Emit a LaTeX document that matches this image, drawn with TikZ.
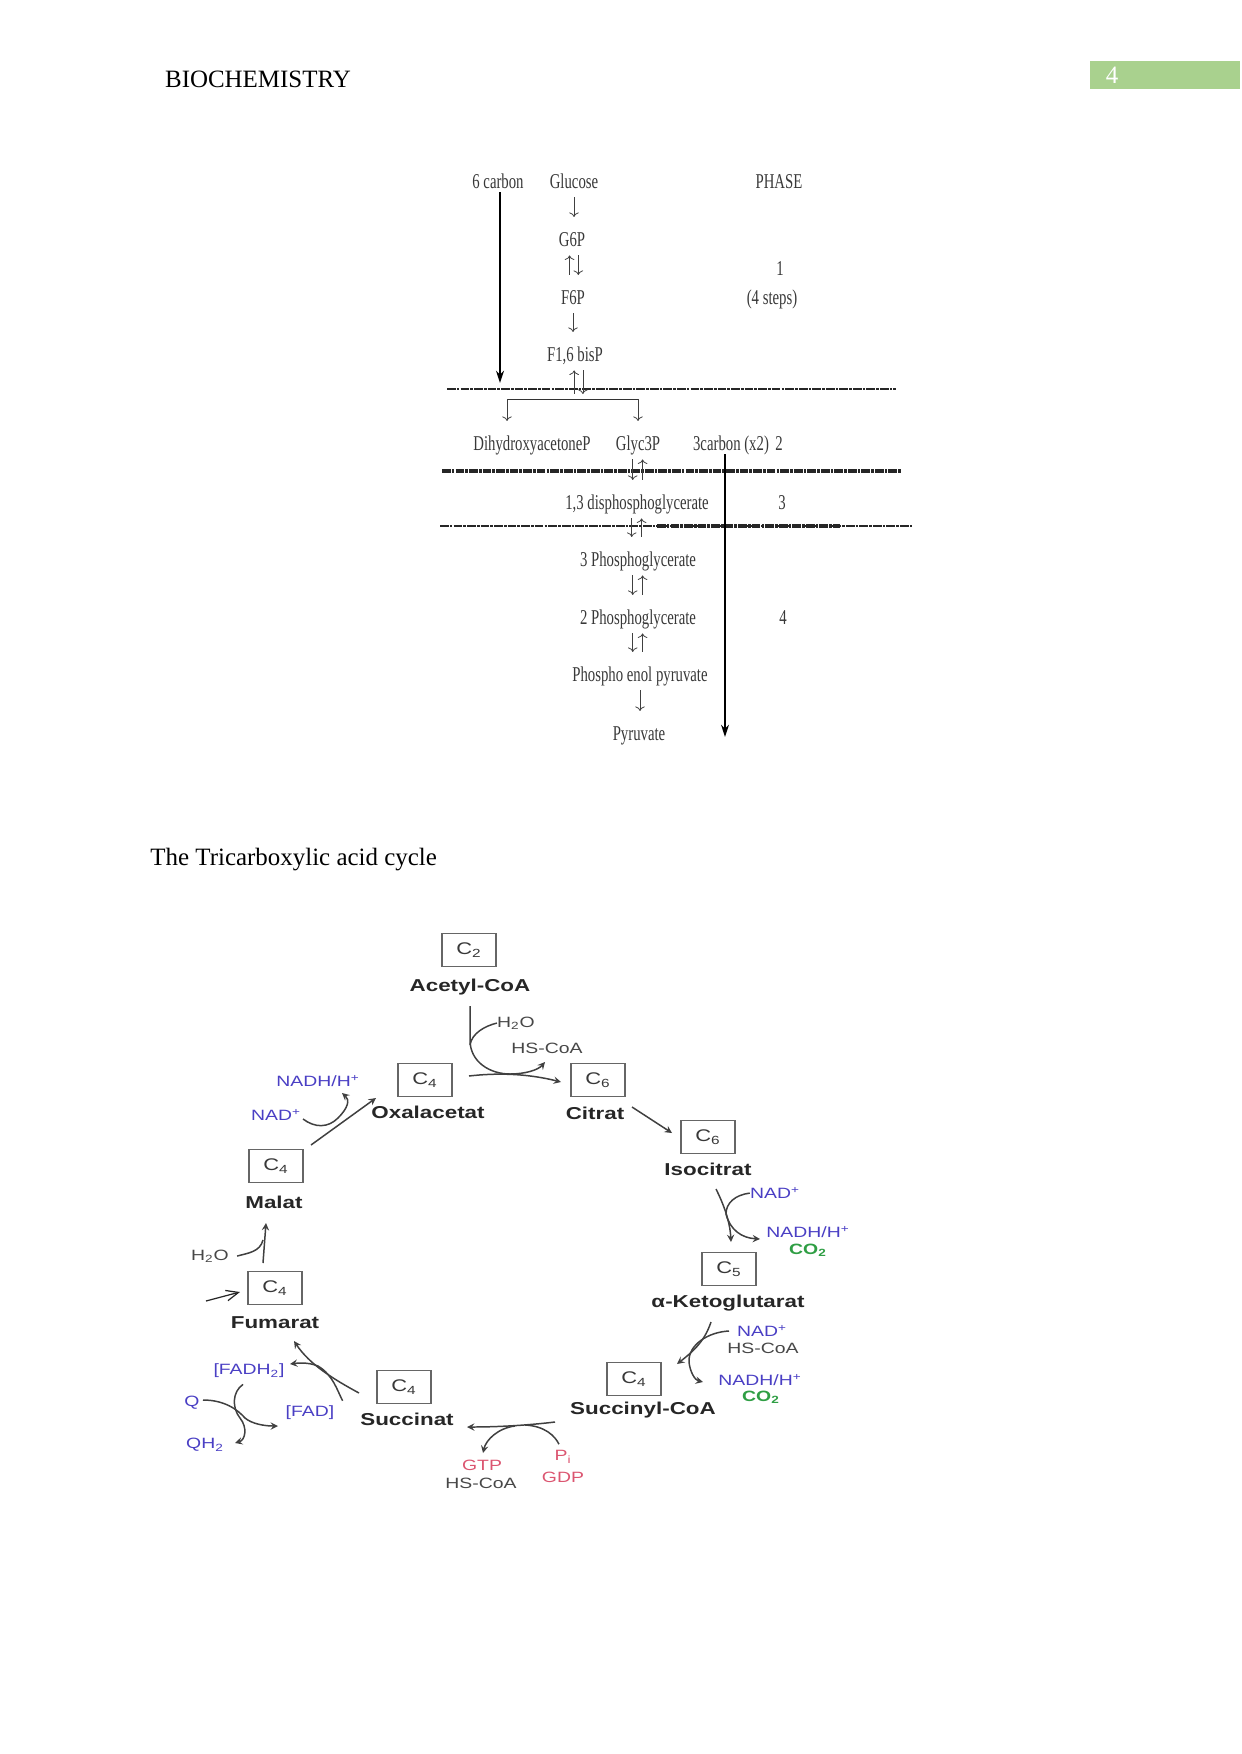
\documentclass[tikz,border=0pt]{standalone}
\usepackage{fontspec}
\setmainfont{Liberation Serif}
\newfontfamily\pathfont[FakeStretch=0.7]{Liberation Serif}
\newfontfamily\cyclefont[FakeStretch=1.3]{Liberation Sans}
\usetikzlibrary{arrows.meta}
\definecolor{pagegreen}{HTML}{A9D18E}
\definecolor{nadblue}{HTML}{4A3FC4}
\definecolor{cotwogreen}{HTML}{2F9E44}
\definecolor{gtpred}{HTML}{DB5570}

\begin{document}
\begin{tikzpicture}[x=0.02cm,y=-0.02cm,
    steptext/.style={font=\pathfont\fontsize{12}{14}\selectfont,text=black!78,inner sep=0pt,text height=8pt,text depth=2.5pt,yshift=-1.4pt},
    thinstep/.style={->,line width=0.45pt,black!75,shorten <=2.5pt,shorten >=8.5pt},
    boldstep/.style={-{Stealth[length=7pt,width=4.5pt]},line width=1.2pt,black},
    phaseline/.style={black!85,dash pattern=on 5pt off 0.6pt on 1.5pt off 0.6pt},
    cbox/.style={draw=black!60,line width=0.9pt,minimum width=31pt,minimum height=19pt,inner sep=0pt,font=\cyclefont\fontsize{9.6}{11}\selectfont,text=black!78},
    cycname/.style={font=\cyclefont\bfseries\fontsize{9.8}{11}\selectfont,text=black!85,inner sep=0pt,yshift=-0.6pt},
    cofactor/.style={font=\cyclefont\fontsize{8.5}{10}\selectfont,text=black!72,inner sep=0pt,yshift=-0.6pt},
    blueco/.style={cofactor,text=nadblue},
    greenco/.style={cofactor,font=\cyclefont\bfseries\fontsize{8.5}{10}\selectfont,text=cotwogreen},
    redco/.style={cofactor,text=gtpred},
    cycarrow/.style={-stealth,line width=0.85pt,black!75},
    cycline/.style={line width=0.85pt,black!75}]

\useasboundingbox (0,0) rectangle (1241,1754);

%page head
\node[font=\fontsize{14.2}{16}\selectfont,inner sep=0pt] (head) at (258,79) {BIOCHEMISTRY};
\node[fill=pagegreen,minimum width=85.4pt,minimum height=15.9pt,inner sep=0pt] (pagebox) at (1165,75) {};
\node[font=\fontsize{14.2}{16}\selectfont,text=white,inner sep=0pt] (pageno) at (1112,75) {4};
\node[font=\fontsize{14.2}{16}\selectfont,inner sep=0pt,anchor=west] (tca) at (150,860) {The Tricarboxylic acid cycle};

%glycolysis names
\node[steptext] (sixc) at (498,181) {6 carbon};
\node[steptext] (glucose) at (574,181) {Glucose};
\node[steptext] (phase) at (779,181) {PHASE};
\node[steptext] (gsixp) at (572,239) {G6P};
\node[steptext] (phaseone) at (780,268) {1};
\node[steptext] (fsixp) at (573,297) {F6P};
\node[steptext] (foursteps) at (772,297) {(4 steps)};
\node[steptext] (fbisp) at (575,354) {F1,6 bisP};
\node[steptext] (dhap) at (532,443) {DihydroxyacetoneP};
\node[steptext] (gthreep) at (638,443) {Glyc3P};
\node[steptext] (threec) at (731,443) {3carbon (x2)};
\node[steptext] (phasetwo) at (779,443) {2};
\node[steptext] (bpg) at (637,502) {1,3 disphosphoglycerate};
\node[steptext] (phasethree) at (782,502) {3};
\node[steptext] (threepg) at (638,559) {3 Phosphoglycerate};
\node[steptext] (twopg) at (638,617) {2 Phosphoglycerate};
\node[steptext] (phasefour) at (783,617) {4};
\node[steptext] (pep) at (640,674) {Phospho enol pyruvate};
\node[steptext] (pyruvate) at (639,733) {Pyruvate};

\coordinate (lineone l) at (447,389);
\coordinate (lineone r) at (896,389);
\coordinate (linetwo l) at (442,471);
\coordinate (linetwo r) at (901,471);
\coordinate (linethree l) at (440,526);
\coordinate (linethree r) at (912,526);
\coordinate (linethree a) at (657,526);
\coordinate (linethree b) at (840,526);
\coordinate (forkl) at (507,399);
\coordinate (forkr) at (638,399);
\coordinate (cut) at (578,394);
\coordinate (sixc top) at (500,192);
\coordinate (sixc end) at (500,383);
\coordinate (threec top) at (725,454);
\coordinate (threec end) at (725,737);

\draw[phaseline,line width=1.4pt] (lineone l)--(lineone r);
\draw[phaseline,line width=2pt] (linetwo l)--(linetwo r);
\draw[phaseline,line width=1pt] (linethree l)--(linethree r);
\draw[phaseline,line width=2pt] (linethree a)--(linethree b);

\draw[boldstep] (sixc top)--(sixc end);
\draw[boldstep,line width=0.9pt] (threec top)--(threec end);

\draw[thinstep] (glucose.south)--(glucose.south |- gsixp.north);
\draw[thinstep,<-] ([xshift=-1.4pt]gsixp.south)--([xshift=-1.4pt]gsixp.south |- fsixp.north);
\draw[thinstep] ([xshift=3.6pt]gsixp.south)--([xshift=3.6pt]gsixp.south |- fsixp.north);
\draw[thinstep] (fsixp.south)--(fsixp.south |- fbisp.north);
\draw[thinstep,shorten >=0pt] ([xshift=4.5pt]fbisp.south)--([xshift=4.5pt]fbisp.south |- cut);
\draw[thinstep,shorten >=0pt,<-] ([xshift=-0.5pt]fbisp.south)--([xshift=-0.5pt]fbisp.south |- cut);

\draw[line width=0.45pt,black!80] (forkl)--(forkr);
\draw[thinstep,shorten <=0pt] (forkl)--(forkl |- dhap.north);
\draw[thinstep,shorten <=0pt] (forkr)--(forkr |- gthreep.north);

\foreach \from/\to in {gthreep/bpg,bpg/threepg,threepg/twopg,twopg/pep}{
    \draw[thinstep] ([xshift=-3pt]\from.south)--([xshift=-3pt]\from.south |- \to.north);
    \draw[thinstep,<-] ([xshift=2.6pt]\from.south)--([xshift=2.6pt]\from.south |- \to.north);
}
\draw[thinstep] (pep.south)--(pep.south |- pyruvate.north);

%the cycle
\node[cbox] (ctwo) at (469,950) {C\textsubscript{2}};
\node[cycname] (acetyl) at (470,986) {Acetyl-CoA};
\node[cbox] (cfour oxal) at (425,1080) {C\textsubscript{4}};
\node[cycname] (oxal) at (428,1111) {Oxalacetat};
\node[cbox] (csix cit) at (598,1080) {C\textsubscript{6}};
\node[cycname] (citrat) at (595,1112) {Citrat};
\node[cbox] (csix iso) at (708,1137) {C\textsubscript{6}};
\node[cycname] (isocit) at (708,1168) {Isocitrat};
\node[cbox] (cfive) at (729,1269) {C\textsubscript{5}};
\node[cycname] (ketog) at (728,1302) {α-Ketoglutarat};
\node[cbox] (cfour succoa) at (634,1379) {C\textsubscript{4}};
\node[cycname] (succoa) at (643,1409) {Succinyl-CoA};
\node[cbox] (cfour succ) at (404,1387) {C\textsubscript{4}};
\node[cycname] (succ) at (407,1418) {Succinat};
\node[cbox] (cfour fum) at (275,1288) {C\textsubscript{4}};
\node[cycname] (fum) at (275,1322) {Fumarat};
\node[cbox] (cfour mal) at (276,1166) {C\textsubscript{4}};
\node[cycname] (mal) at (274,1201) {Malat};

\node[cofactor] (water one) at (516,1022) {H\textsubscript{2}O};
\node[cofactor] (coa one) at (547,1047) {HS-CoA};
\node[blueco] (nadh mal) at (318,1080) {NADH/H\textsuperscript{+}};
\node[blueco] (nad mal) at (276,1114) {NAD\textsuperscript{+}};
\node[cofactor] (water two) at (210,1255) {H\textsubscript{2}O};
\node[blueco] (fadh) at (249,1370) {[FADH\textsubscript{2}]};
\node[blueco] (fad) at (310,1412) {[FAD]};
\node[blueco] (q) at (192,1402) {Q};
\node[blueco] (qh) at (205,1444) {QH\textsubscript{2}};
\node[redco] (gtp) at (482,1464) {GTP};
\node[cofactor] (coa two) at (481,1482) {HS-CoA};
\node[redco] (pi) at (563,1456) {P\textsubscript{i}};
\node[redco] (gdp) at (563,1476) {GDP};
\node[blueco] (nad iso) at (775,1192) {NAD\textsuperscript{+}};
\node[blueco] (nadh iso) at (808,1231) {NADH/H\textsuperscript{+}};
\node[greenco] (co iso) at (808,1249) {CO\textsubscript{2}};
\node[blueco] (nad keto) at (762,1330) {NAD\textsuperscript{+}};
\node[cofactor] (coa three) at (763,1347) {HS-CoA};
\node[blueco] (nadh keto) at (760,1379) {NADH/H\textsuperscript{+}};
\node[greenco] (co keto) at (761,1396) {CO\textsubscript{2}};

%free ends of the arrows
\coordinate (oxal out) at (469,1076);
\coordinate (cit in) at (561,1082);
\coordinate (acetyl out) at (470,1006);
\coordinate (coa end) at (545,1062);
\coordinate (mal out) at (311,1145);
\coordinate (oxal in) at (376,1098);
\coordinate (nad start) at (303,1119);
\coordinate (nadh end) at (342,1093);
\coordinate (cit out) at (632,1107);
\coordinate (iso in) at (672,1133);
\coordinate (iso out) at (716,1189);
\coordinate (cfive in) at (731,1242);
\coordinate (nadh iso end) at (760,1239);
\coordinate (keto out) at (711,1322);
\coordinate (suc in) at (677,1364);
\coordinate (nad keto start) at (729,1331);
\coordinate (nadh keto end) at (703,1382);
\coordinate (suc out) at (555,1422);
\coordinate (succ in) at (467,1427);
\coordinate (gtp end) at (483,1453);
\coordinate (succ out) at (359,1393);
\coordinate (fum in) at (294,1341);
\coordinate (fadh end) at (290,1364);
\coordinate (q start) at (203,1400);
\coordinate (q end) at (278,1426);
\coordinate (qh end) at (235,1443);
\coordinate (fum out) at (263,1263);
\coordinate (mal in) at (266,1223);
\coordinate (open start) at (206,1301);
\coordinate (open end) at (240,1292);

\draw[cycline,-stealth] (oxal out) .. controls (495,1073) and (525,1073) .. (cit in);
\draw[cycarrow] (acetyl out)--(470,1040) .. controls (470,1062) and (490,1074) .. (510,1074) .. controls (525,1074) and (538,1070) .. (coa end);
\draw[cycline] (water one.west) .. controls (485,1026) and (472,1033) .. (470,1045);
\draw[cycarrow] (mal out)--(oxal in);
\draw[cycarrow] (nad start) .. controls (315,1128) and (328,1128) .. (338,1118) .. controls (348,1108) and (350,1100) .. (nadh end);
\draw[cycarrow] (cit out)--(iso in);
\draw[cycarrow] (iso out) .. controls (724,1205) and (730,1222) .. (cfive in);
\draw[cycarrow] (nad iso.west) .. controls (735,1195) and (726,1203) .. (726,1214) .. controls (730,1230) and (742,1238) .. (nadh iso end);
\draw[cycarrow] (keto out) .. controls (705,1340) and (695,1350) .. (suc in);
\draw[cycarrow] (nad keto start) .. controls (708,1332) and (688,1345) .. (689,1362) .. controls (690,1372) and (695,1380) .. (nadh keto end);
\draw[cycarrow] (suc out) .. controls (530,1425) and (500,1427) .. (succ in);
\draw[cycline] (pi.north)++(-4,-6) .. controls (555,1436) and (545,1426) .. (525,1425);
\draw[cycarrow] (515,1426) .. controls (498,1428) and (486,1440) .. (gtp end);
\draw[cycarrow] (succ out) .. controls (335,1380) and (310,1365) .. (fum in);
\draw[cycarrow] (fad.north east)++(8,-5) .. controls (337,1390) and (333,1375) .. (318,1366) .. controls (308,1362) and (298,1363) .. (fadh end);
\draw[cycarrow] (q start) .. controls (225,1400) and (238,1410) .. (245,1418) .. controls (252,1424) and (265,1426) .. (q end);
\draw[cycarrow] (fadh.south)++(-6,6) .. controls (232,1392) and (232,1408) .. (240,1418) .. controls (248,1428) and (245,1440) .. (qh end);
\draw[cycarrow] (fum out)--(mal in);
\draw[cycline] (water two.east)++(8,0) .. controls (248,1253) and (260,1252) .. (263,1240);
\draw[line width=0.7pt,black!85,-{Straight Barb[length=7pt,width=6pt]}] (open start)--(open end);
\end{tikzpicture}
\end{document}
